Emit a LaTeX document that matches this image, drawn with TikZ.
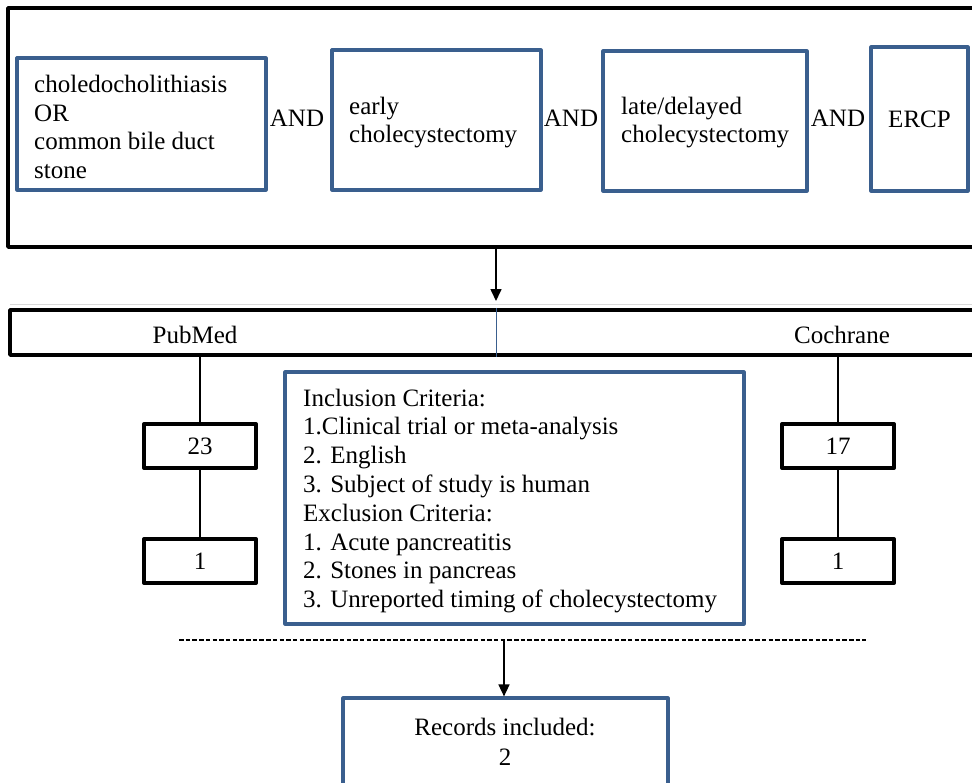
\documentclass[tikz,border=0pt]{standalone}
\usepackage{fontspec}
\setmainfont{Liberation Serif}
\usetikzlibrary{arrows.meta}
\definecolor{boxblue}{HTML}{3A5F8E}
\begin{document}
\begin{tikzpicture}[x=1pt,y=-1pt,
  every node/.style={font=\fontsize{25}{28.8}\selectfont, inner sep=0pt},
  bluebox/.style={draw=boxblue, line width=3.2pt, line join=round, rectangle},
  blackbox/.style={draw=black, line width=3.6pt, line join=round, rectangle},
  numbox/.style={draw=black, line width=4pt, line join=round, minimum width=112pt, minimum height=44pt},
  lefttext/.style={anchor=west, align=left},
  conn/.style={draw=black, line width=1.8pt},
  arr/.style={draw=black, line width=1.6pt, -{Triangle[length=12pt,width=11pt]}},
]
\clip (0,0) rectangle (972,782);
\fill[white] (0,0) rectangle (972,782);

% search terms container
\node[blackbox, minimum width=992pt, minimum height=239pt] (search) at (504,127.5) {};
\node[bluebox, minimum width=249pt, minimum height=132pt] (t1) at (141.5,124) {};
\node[lefttext] (t1text) at (34,127) {choledocholithiasis\\OR\\common bile duct\\stone};
\node (and1) at (297,118) {AND};
\node[bluebox, minimum width=209pt, minimum height=140pt] (t2) at (436.5,120) {};
\node[lefttext] (t2text) at (349,122.5) {early\\cholecystectomy};
\node (and2) at (571,118) {AND};
\node[bluebox, minimum width=204pt, minimum height=140pt] (t3) at (705,121) {};
\node[lefttext] (t3text) at (621,122.5) {late/delayed\\cholecystectomy};
\node (and3) at (838,118) {AND};
\node[bluebox, minimum width=97pt, minimum height=144pt] (t4) at (919.5,119) {ERCP};

% faint separator
\coordinate (g1) at (10,304);
\coordinate (g2) at (972,304);
\draw[black!15, line width=1pt] (g1) -- (g2);

% databases bar
\node[blackbox, minimum width=990pt, minimum height=45pt] (db) at (505,332.5) {};
\node (pubmed) at (195,335) {PubMed};
\node (cochrane) at (842,335) {Cochrane};
\coordinate (mid) at (496,0);
\coordinate (arrtip) at (496,301);
\draw[arr] (search.south -| mid) -- (arrtip);
\draw[draw=boxblue, line width=1pt] (db.north -| mid) -- (db.south -| mid);

% counts
\node[numbox] (pm23) at (200,446) {23};
\node[numbox] (pm1) at (200,561) {1};
\node[numbox] (co17) at (838,446) {17};
\node[numbox] (co1) at (838,561) {1};
\draw[conn] (db.south -| pm23) -- (pm23.north);
\draw[conn] (pm23.south) -- (pm1.north);
\draw[conn] (db.south -| co17) -- (co17.north);
\draw[conn] (co17.south) -- (co1.north);

% criteria
\node[bluebox, minimum width=459pt, minimum height=252pt] (crit) at (514.5,498) {};
\node[lefttext] (crittext) at (303,501)
  {Inclusion Criteria:\\1.Clinical trial or meta-analysis\\2. English\\3. Subject of study is human\\Exclusion Criteria:\\1. Acute pancreatitis\\2. Stones in pancreas\\3. Unreported timing of cholecystectomy};

% dashed divider and result
\coordinate (d1) at (179,640);
\coordinate (d2) at (866,640);
\coordinate (d3) at (504,640);
\draw[black, line width=1.3pt, dash pattern=on 4.5pt off 2.2pt] (d1) -- (d2);
\node[bluebox, minimum width=325pt, minimum height=142pt] (rec) at (505.5,769) {};
\draw[arr] (d3) -- (rec.north -| d3);
\node[align=center] (rectext) at (505,742) {Records included:\\[1pt]2};
\end{tikzpicture}
\end{document}
